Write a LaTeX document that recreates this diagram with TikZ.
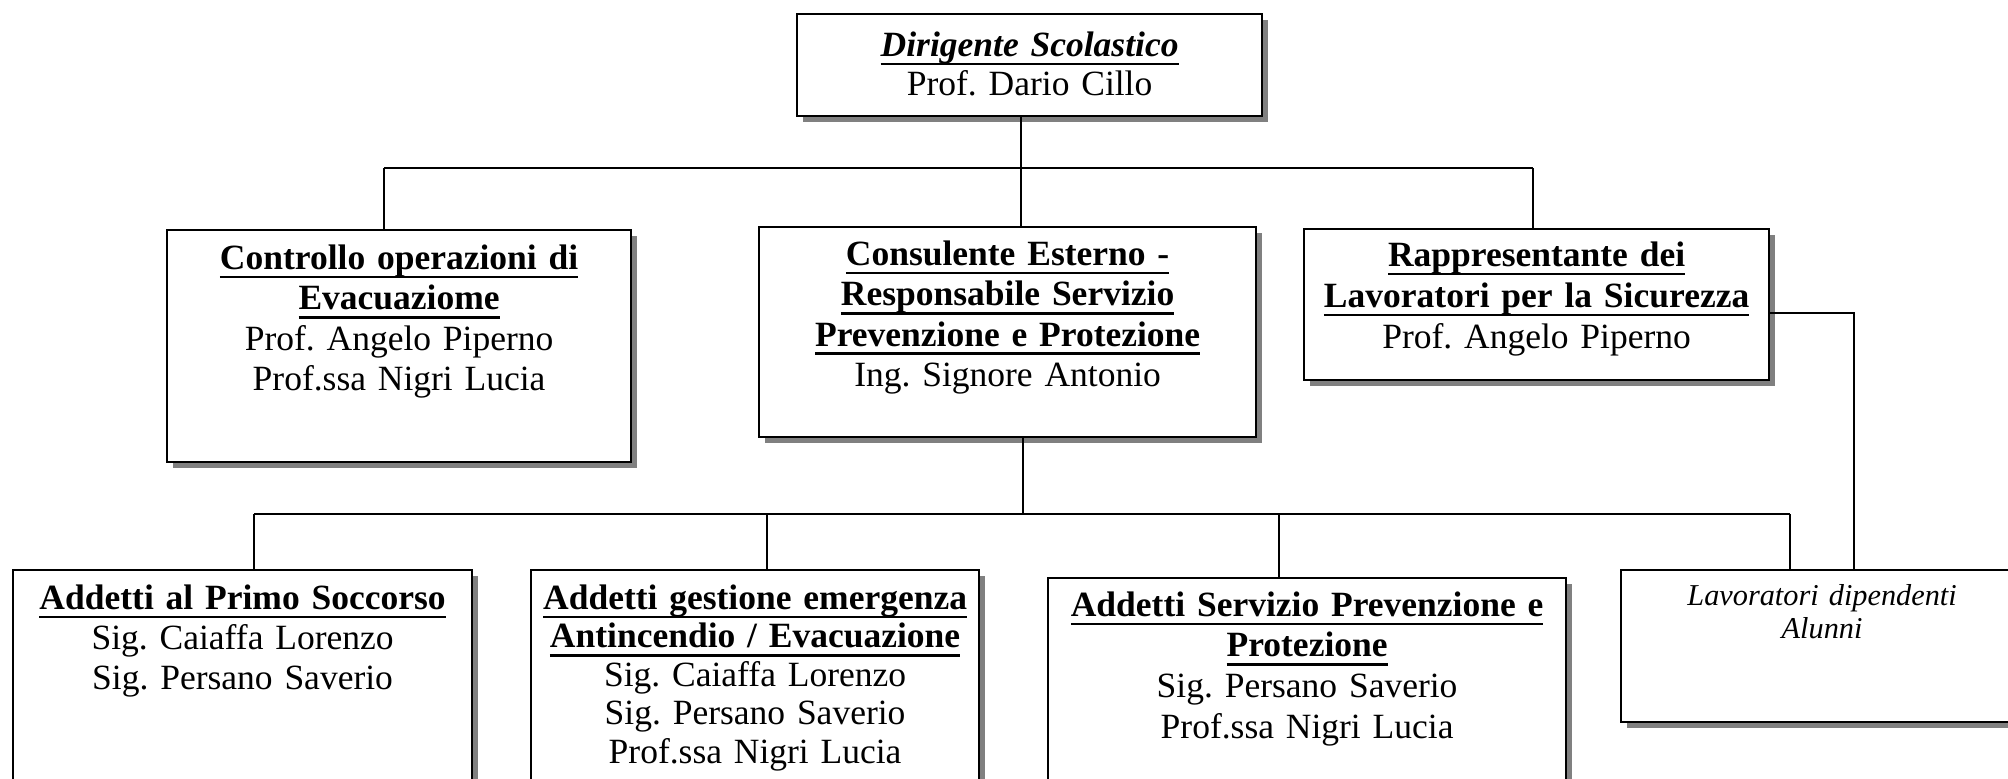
\documentclass[tikz,border=0pt]{standalone}
\usepackage{fontspec}
\setmainfont{Liberation Serif}
\usetikzlibrary{shadows}
\definecolor{shadowgray}{RGB}{128,128,128}
\newsavebox\ulbox
\newcommand\ulin[1]{\leavevmode\sbox\ulbox{#1}\rlap{\rule[-9pt]{\wd\ulbox}{2.6pt}}\usebox\ulbox}
\frenchspacing
\begin{document}
\frenchspacing
\begin{tikzpicture}[x=1pt,y=-1pt,
  box/.style={draw=black, line width=2.2pt, fill=white, inner sep=0pt, anchor=north west, align=center,
    general shadow={fill=shadowgray, shadow xshift=6pt, shadow yshift=-6pt}},
  conn/.style={line width=2pt}]
\useasboundingbox (0,0) rectangle (2008,779);

\node[box, text width=465pt, text height=42pt, text depth=60pt, font=\fontsize{35.5}{39.5}\selectfont\frenchspacing] (dir) at (796,13)
  {\ulin{\textbf{\textit{Dirigente Scolastico}}}\\Prof. Dario Cillo};

\node[box, text width=464pt, text height=39.3pt, text depth=192.7pt, font=\fontsize{35.5}{40.5}\selectfont\frenchspacing] (ctrl) at (166,229)
  {\ulin{\textbf{Controllo operazioni di}}\\\ulin{\textbf{Evacuaziome}}\\Prof. Angelo Piperno\\Prof.ssa Nigri Lucia};

\node[box, text width=497pt, text height=38.3pt, text depth=171.7pt, font=\fontsize{35.5}{40.3}\selectfont\frenchspacing] (cons) at (758,226)
  {\ulin{\textbf{Consulente Esterno -}}\\\ulin{\textbf{Responsabile Servizio}}\\\ulin{\textbf{Prevenzione e Protezione}}\\Ing. Signore Antonio};

\node[box, text width=465pt, text height=37pt, text depth=114pt, font=\fontsize{35.5}{41}\selectfont\frenchspacing] (rls) at (1303,228)
  {\ulin{\textbf{Rappresentante dei}}\\\ulin{\textbf{Lavoratori per la Sicurezza}}\\Prof. Angelo Piperno};

\node[box, text width=459pt, text height=39pt, text depth=182pt, font=\fontsize{35.5}{40}\selectfont\frenchspacing] (ps) at (12,569)
  {\ulin{\textbf{Addetti al Primo Soccorso}}\\Sig. Caiaffa Lorenzo\\Sig. Persano Saverio};

\node[box, text width=448pt, text height=39pt, text depth=182pt, font=\fontsize{35.5}{38.5}\selectfont\frenchspacing] (ge) at (530,569)
  {\ulin{\textbf{Addetti gestione emergenza}}\\\ulin{\textbf{Antincendio / Evacuazione}}\\Sig. Caiaffa Lorenzo\\Sig. Persano Saverio\\Prof.ssa Nigri Lucia};

\node[box, text width=518pt, text height=38pt, text depth=175pt, font=\fontsize{35.5}{40.7}\selectfont\frenchspacing] (sv) at (1047,577)
  {\ulin{\textbf{Addetti Servizio Prevenzione e}}\\\ulin{\textbf{Protezione}}\\Sig. Persano Saverio\\Prof.ssa Nigri Lucia};

\node[box, text width=402pt, text height=35.3pt, text depth=116.7pt, font=\fontsize{30.3}{33.4}\selectfont\itshape\frenchspacing] (lav) at (1620,569)
  {Lavoratori dipendenti\\Alunni};

\coordinate (b1L) at (384,168);
\coordinate (b1M) at (1021,168);
\coordinate (b1R) at (1533,168);
\coordinate (rj) at (1854,313);
\coordinate (b2L) at (254,514);
\coordinate (b2A) at (767,514);
\coordinate (b2M) at (1023,514);
\coordinate (b2B) at (1279,514);
\coordinate (b2R) at (1790,514);

\draw[conn] (b1L) -- (b1R);
\draw[conn] (dir.south -| b1M) -- (cons.north -| b1M);
\draw[conn] (b1L) -- (ctrl.north -| b1L);
\draw[conn] (b1R) -- (rls.north -| b1R);
\draw[conn] (rls.east |- rj) -- (rj) -- (lav.north -| rj);
\draw[conn] (cons.south -| b2M) -- (b2M);
\draw[conn] (b2L) -- (b2R);
\draw[conn] (b2L) -- (ps.north -| b2L);
\draw[conn] (b2A) -- (ge.north -| b2A);
\draw[conn] (b2B) -- (sv.north -| b2B);
\draw[conn] (b2R) -- (lav.north -| b2R);
\end{tikzpicture}
\end{document}
